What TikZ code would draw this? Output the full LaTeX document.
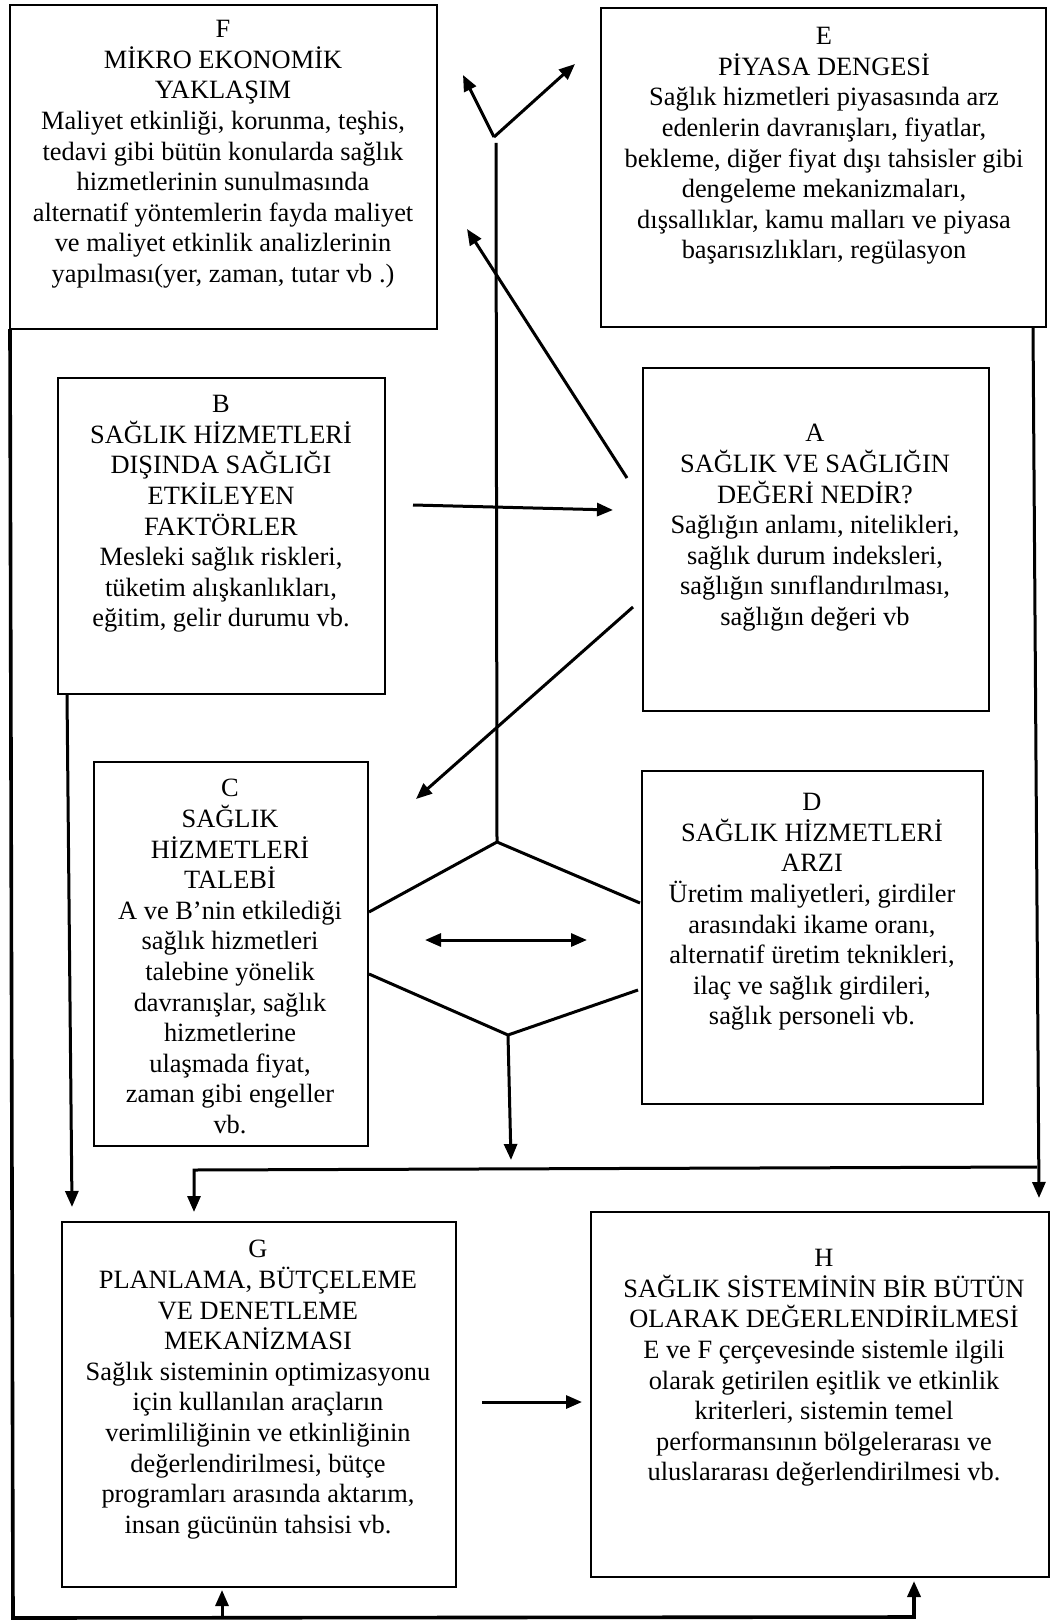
\documentclass[tikz,border=0pt]{standalone}
\usepackage{fontspec}
\setmainfont{Liberation Serif}
\usetikzlibrary{arrows.meta,fit}
\begin{document}
\begin{tikzpicture}[x=0.5pt,y=-0.5pt,
  box/.style={draw,line width=1pt,inner sep=0pt},
  txt/.style={inner sep=0pt,anchor=north,align=center,font=\fontsize{13.2}{15.3}\selectfont},
  conn/.style={line width=1.5pt},
  arr/.style={line width=1.5pt,-{Triangle[length=8pt,width=6.5pt]}},
  darr/.style={line width=1.5pt,{Triangle[length=8pt,width=6.5pt]}-{Triangle[length=8pt,width=6.5pt]}}]
\useasboundingbox (0,0) rectangle (1051,1621);
% boxes
\node[box,fit={(10,5) (437,329)}] (F) {};
\node[box,fit={(601,8) (1046,327)}] (E) {};
\node[box,fit={(58,378) (385,694)}] (B) {};
\node[box,fit={(643,368) (989,711)}] (A) {};
\node[box,fit={(94,762) (368,1146)}] (C) {};
\node[box,fit={(642,771) (983,1104)}] (D) {};
\node[box,fit={(62,1222) (456,1587)}] (G) {};
\node[box,fit={(591,1212) (1049,1577)}] (H) {};
% texts
\node[txt] (Ft) at (223,20) {F\\MİKRO EKONOMİK\\YAKLAŞIM\\Maliyet etkinliği, korunma, teşhis,\\tedavi gibi bütün konularda sağlık\\hizmetlerinin sunulmasında\\alternatif yöntemlerin fayda maliyet\\ve maliyet etkinlik analizlerinin\\yapılması(yer, zaman, tutar vb .)};
\node[txt] (Et) at (824,27) {E\\PİYASA DENGESİ\\Sağlık hizmetleri piyasasında arz\\edenlerin davranışları, fiyatlar,\\bekleme, diğer fiyat dışı tahsisler gibi\\dengeleme mekanizmaları,\\dışsallıklar, kamu malları ve piyasa\\başarısızlıkları, regülasyon};
\node[txt] (Bt) at (221,395) {B\\SAĞLIK HİZMETLERİ\\DIŞINDA SAĞLIĞI\\ETKİLEYEN\\FAKTÖRLER\\Mesleki sağlık riskleri,\\tüketim alışkanlıkları,\\eğitim, gelir durumu vb.};
\node[txt] (At) at (815,424) {A\\SAĞLIK VE SAĞLIĞIN\\DEĞERİ NEDİR?\\Sağlığın anlamı, nitelikleri,\\sağlık durum indeksleri,\\sağlığın sınıflandırılması,\\sağlığın değeri vb};
\node[txt] (Ct) at (230,779) {C\\SAĞLIK\\HİZMETLERİ\\TALEBİ\\A ve B’nin etkilediği\\sağlık hizmetleri\\talebine yönelik\\davranışlar, sağlık\\hizmetlerine\\ulaşmada fiyat,\\zaman gibi engeller\\vb.};
\node[txt] (Dt) at (812,793) {D\\SAĞLIK HİZMETLERİ\\ARZI\\Üretim maliyetleri, girdiler\\arasındaki ikame oranı,\\alternatif üretim teknikleri,\\ilaç ve sağlık girdileri,\\sağlık personeli vb.};
\node[txt] (Gt) at (258,1240) {G\\PLANLAMA, BÜTÇELEME\\VE DENETLEME\\MEKANİZMASI\\Sağlık sisteminin optimizasyonu\\için kullanılan araçların\\verimliliğinin ve etkinliğinin\\değerlendirilmesi, bütçe\\programları arasında aktarım,\\insan gücünün tahsisi vb.};
\node[txt] (Ht) at (824,1249) {H\\SAĞLIK SİSTEMİNİN BİR BÜTÜN\\OLARAK DEĞERLENDİRİLMESİ\\E ve F çerçevesinde sistemle ilgili\\olarak getirilen eşitlik ve etkinlik\\kriterleri, sistemin temel\\performansının bölgelerarası ve\\uluslararası değerlendirilmesi vb.};
% coordinates
\coordinate (J) at (494,137);
\coordinate (Jv) at (496,143);
\coordinate (Jl) at (463,75);
\coordinate (Jr) at (575,64);
\coordinate (T) at (497,842);
\coordinate (L1) at (369,912);
\coordinate (R1) at (640,903);
\coordinate (L2) at (369,974);
\coordinate (Bv) at (508,1035);
\coordinate (R2) at (638,990);
\coordinate (Dl) at (425,940);
\coordinate (Dr) at (587,940);
\coordinate (Bd) at (511,1160);
\coordinate (Aa) at (627,478);
\coordinate (Ab) at (467,229);
\coordinate (Ba) at (413,505);
\coordinate (Bb) at (613,510);
\coordinate (Ca) at (633,607);
\coordinate (Cb) at (416,799);
\coordinate (Bs) at (67,694);
\coordinate (Be) at (72,1207);
\coordinate (Es) at (1033,327);
\coordinate (Ee) at (1039,1198);
\coordinate (Hr) at (1037,1167);
\coordinate (Hl) at (194,1170);
\coordinate (Ge) at (194,1212);
\coordinate (Fs) at (10,329);
\coordinate (Lb) at (13,1618);
\coordinate (Rb) at (914,1617);
\coordinate (He) at (914,1581);
\coordinate (Gb) at (222,1618);
\coordinate (Gu) at (222,1590);
\coordinate (GHa) at (482,1402);
\coordinate (GHb) at (582,1402);
% connectors
\draw[conn] (T) -- (Jv);
\draw[arr] (J) -- (Jl);
\draw[arr] (J) -- (Jr);
\draw[arr] (Aa) -- (Ab);
\draw[arr] (Ba) -- (Bb);
\draw[arr] (Ca) -- (Cb);
\draw[conn] (L1) -- (T) -- (R1);
\draw[conn] (L2) -- (Bv) -- (R2);
\draw[darr] (Dl) -- (Dr);
\draw[arr] (Bv) -- (Bd);
\draw[arr] (Bs) -- (Be);
\draw[arr] (Es) -- (Ee);
\draw[arr] (Hr) -- (Hl) -- (Ge);
\draw[arr,line width=1.8pt] (Fs) -- (Lb) -- (Rb) -- (He);
\draw[arr] (Gb) -- (Gu);
\draw[arr] (GHa) -- (GHb);
\end{tikzpicture}
\end{document}
